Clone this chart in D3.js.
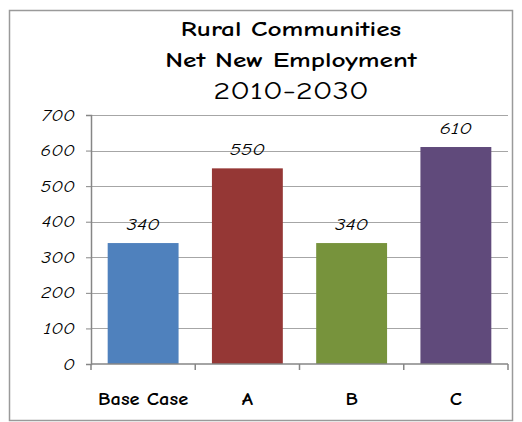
<!DOCTYPE html>
<html>
<head>
<meta charset="utf-8">
<script src="https://cdn.jsdelivr.net/npm/d3@7"></script>
<style>
  body { margin: 0; background: #fff; }
  svg { display: block; }
</style>
</head>
<body>
<div class="chartDiv"></div>
<script>
// chart data
const categories = ['Base Case', 'A', 'B', 'C'];
const values = [340, 550, 340, 610];
const barColors = ['#4F81BD', '#953735', '#77933C', '#604A7B'];
const yTicks = [0, 100, 200, 300, 400, 500, 600, 700];
const titleLines = ['Rural Communities', 'Net New Employment', '2010-2030'];

const width = 522;
const height = 422;
const font = '"Comic Sans MS", "Comic Neue", "DejaVu Sans", sans-serif';

const plotLeft = 91;
const plotRight = 508;
const plotTop = 115;
const plotBottom = 364;

var svg = d3.select('.chartDiv')
    .append('svg')
    .attr('width', width)
    .attr('height', height);

// the original font is wider than the installed comic font, so stretch text sideways
function wideText(sel, x, y, sx) {
    return sel.append('g')
        .attr('transform', `translate(${x},${y}) scale(${sx},1)`)
        .append('text')
        .style('font-family', font);
}

// outer frame
svg.append('rect')
    .attr('x', 9.5)
    .attr('y', 10.5)
    .attr('width', 503)
    .attr('height', 410)
    .attr('fill', 'white')
    .attr('stroke', '#9a9a9a')
    .attr('stroke-width', 1.5);

// title
const titleY = [36, 67, 99];
const titleSize = [21, 21, 25];
titleLines.forEach((t, i) => {
    wideText(svg, 291, titleY[i], 1.3)
        .attr('text-anchor', 'middle')
        .style('font-size', titleSize[i] + 'px')
        .style('font-weight', i < 2 ? 'bold' : 'normal')
        .text(t);
});

const x = d3.scaleBand()
    .domain(categories)
    .range([plotLeft, plotRight])
    .paddingInner(0.32)
    .paddingOuter(0.16);

const y = d3.scaleLinear()
    .domain([0, 700])
    .range([plotBottom, plotTop]);

// gridlines
svg.append('g')
    .selectAll('line')
    .data(yTicks.filter(d => d > 0))
    .enter()
    .append('line')
    .attr('x1', plotLeft)
    .attr('x2', plotRight)
    .attr('y1', d => Math.round(y(d)) + 0.5)
    .attr('y2', d => Math.round(y(d)) + 0.5)
    .attr('stroke', '#a6a6a6')
    .attr('stroke-width', 1);

// y axis
const yAxis = svg.append('g')
    .attr('transform', `translate(${plotLeft},0)`)
    .call(d3.axisLeft(y).tickValues(yTicks).tickSize(5));
yAxis.select('.domain').attr('stroke', '#868686').attr('stroke-width', 1.5);
yAxis.selectAll('.tick line').attr('stroke', '#868686');
yAxis.selectAll('.tick text').remove();
yAxis.selectAll('.tick').each(function (d) {
    wideText(d3.select(this), -16, 5, 1.3)
        .attr('text-anchor', 'end')
        .style('font-size', '15px')
        .style('font-style', 'italic')
        .style('font-weight', 500)
        .attr('fill', '#000')
        .text(d);
});

// bars
svg.selectAll('rect.bar')
    .data(values)
    .enter()
    .append('rect')
    .attr('class', 'bar')
    .attr('x', (d, i) => x(categories[i]))
    .attr('y', d => y(d))
    .attr('width', x.bandwidth())
    .attr('height', d => y(0) - y(d))
    .attr('fill', (d, i) => barColors[i]);

// value labels
values.forEach((v, i) => {
    wideText(svg, x(categories[i]) + x.bandwidth() / 2, y(v) - 13, 1.3)
        .attr('text-anchor', 'middle')
        .style('font-size', '16px')
        .style('font-style', 'italic')
        .text(v);
});

// x axis with ticks between categories
const xAxis = svg.append('g')
    .attr('transform', `translate(0,${plotBottom})`);
xAxis.append('line')
    .attr('x1', plotLeft)
    .attr('x2', plotRight)
    .attr('stroke', '#868686')
    .attr('stroke-width', 1.5);
xAxis.selectAll('line.tk')
    .data(d3.range(categories.length + 1))
    .enter()
    .append('line')
    .attr('class', 'tk')
    .attr('x1', i => plotLeft + i * (plotRight - plotLeft) / categories.length)
    .attr('x2', i => plotLeft + i * (plotRight - plotLeft) / categories.length)
    .attr('y1', 0)
    .attr('y2', 6)
    .attr('stroke', '#868686')
    .attr('stroke-width', 1.5);
categories.forEach((c) => {
    wideText(xAxis, x(c) + x.bandwidth() / 2, 41, 1.2)
        .attr('text-anchor', 'middle')
        .style('font-size', '17px')
        .style('font-weight', 'bold')
        .text(c);
});
</script>
</body>
</html>
